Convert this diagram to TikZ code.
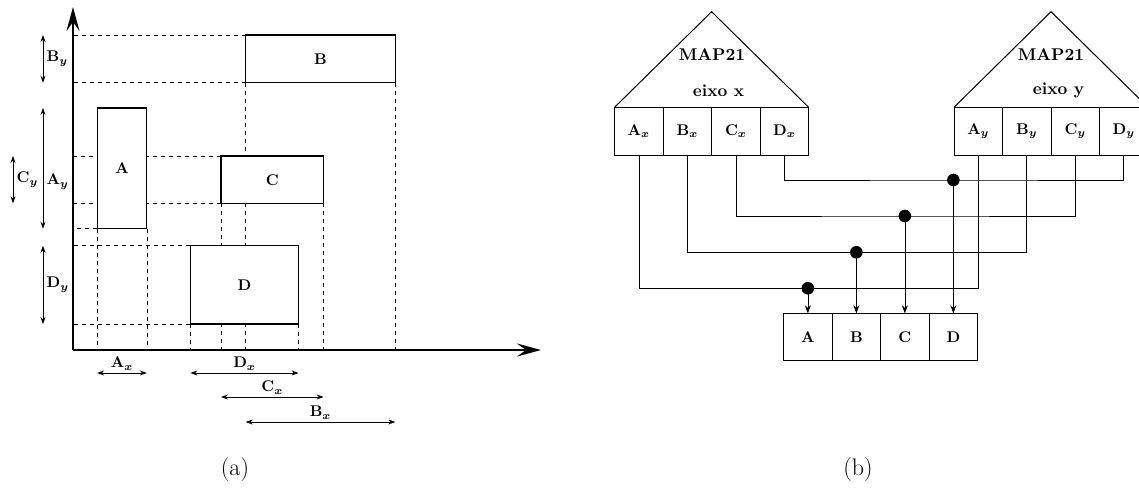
\documentclass[tikz,border=0pt]{standalone}
\usepackage{amsmath,amssymb}
\usepackage{graphicx}
\usepackage{tikz}
\usetikzlibrary{positioning,arrows.meta,backgrounds}
\newcommand{\blab}[1]{\scalebox{1.55}{\bfseries\boldmath #1}}
\newcommand{\maplab}[1]{\scalebox{1.7}{\bfseries #1}}

\begin{document}
\begin{tikzpicture}[x=1pt,y=1pt,
  blk/.style={draw,fill=white,line width=1.1pt,inner sep=0pt,outer sep=0pt},
  cell/.style={draw,line width=0.9pt,minimum width=48.5pt,minimum height=48.4pt,inner sep=0pt,outer sep=0pt},
  guide/.style={line width=0.7pt,dash pattern=on 4pt off 4pt},
  axisline/.style={line width=2.4pt,-{Stealth[length=24pt,width=13pt,inset=9pt]}},
  dim/.style={line width=0.8pt,{Stealth[length=7pt,width=5pt]}-{Stealth[length=7pt,width=5pt]}},
  wire/.style={line width=0.7pt},
  tri/.style={line width=1pt,line join=miter},
  captxt/.style={font=\fontsize{24}{28}\selectfont}]
\useasboundingbox (0,0) rectangle (1139,492);
\clip (0,0) rectangle (1139,492);
% (a) axes and rectangles
\coordinate (O) at (73,142);
\draw[axisline] (O) -- (541,142);
\draw[axisline] (O) -- (73,485);
\node[blk,minimum width=49.7pt,minimum height=120.7pt] (A) at (122,323.6) {\raisebox{-8pt}{\blab{A}}};
\node[blk,minimum width=149.7pt,minimum height=47.7pt] (B) at (320.5,433.1) {\blab{B}};
\node[blk,minimum width=102.6pt,minimum height=47.3pt] (C) at (272.3,312.3) {\blab{C}};
\node[blk,minimum width=108.2pt,minimum height=78.3pt] (D) at (244.5,207.1) {\raisebox{-4pt}{\blab{D}}};
% projections
\begin{scope}[on background layer]
\foreach \r in {A,B,C,D} {
  \draw[guide] (\r.south west) -- (\r.south west -| O);
  \draw[guide] (\r.south west) -- (\r.south west |- O);
  \draw[guide] (\r.south east) -- (\r.south east |- O);
}
\foreach \r in {B,C,D} \draw[guide] (\r.north west) -- (\r.north west -| O);
\end{scope}
% extents
\coordinate (dl) at (43,0);
\coordinate (dc) at (13,0);
\draw[dim] (B.north -| dl) -- (B.south -| dl) node[midway,right=0pt] {\blab{$\mathbf{B}_y$}};
\draw[dim] (A.north -| dl) -- (A.south -| dl) node[pos=0.61,right=0pt] {\blab{$\mathbf{A}_y$}};
\draw[dim] (C.north -| dc) -- (C.south -| dc) node[midway,right=0pt] {\blab{$\mathbf{C}_y$}};
\draw[dim] (D.north -| dl) -- (D.south -| dl) node[midway,right=0pt] {\blab{$\mathbf{D}_y$}};
\draw[dim] (A.west |- 0,119) -- (A.east |- 0,119) node[midway,above=-1pt] {\blab{$\mathbf{A}_x$}};
\draw[dim] (D.west |- 0,119) -- (D.east |- 0,119) node[midway,above=-1pt] {\blab{$\mathbf{D}_x$}};
\draw[dim] (C.west |- 0,95) -- (C.east |- 0,95) node[midway,above=-1pt] {\blab{$\mathbf{C}_x$}};
\draw[dim] (B.west |- 0,70) -- (B.east |- 0,70) node[midway,above=-1pt] {\blab{$\mathbf{B}_x$}};
\node[captxt] (capa) at (235,22) {(a)};
% (b) MAP21 on each axis
\node[cell] (xa) at (638.85,360.5) {\blab{$\mathbf{A}_x$}};
\node[cell,right=0pt of xa] (xb) {\blab{$\mathbf{B}_x$}};
\node[cell,right=0pt of xb] (xc) {\blab{$\mathbf{C}_x$}};
\node[cell,right=0pt of xc] (xd) {\blab{$\mathbf{D}_x$}};
\coordinate (tx) at (711.6,480.3);
\draw[tri] (xa.north west) -- (tx) -- (xd.north east);
\node (mapx) at (712,437.7) {\maplab{MAP21}};
\node (eixox) at (718.6,401.3) {\maplab{eixo x}};
\node[cell] (ya) at (978.25,360.5) {\blab{$\mathbf{A}_y$}};
\node[cell,right=0pt of ya] (yb) {\blab{$\mathbf{B}_y$}};
\node[cell,right=0pt of yb] (yc) {\blab{$\mathbf{C}_y$}};
\node[cell,right=0pt of yc] (yd) {\blab{$\mathbf{D}_y$}};
\coordinate (ty) at (1051,480.3);
\draw[tri] (ya.north west) -- (ty) -- (yd.north east);
\node (mapy) at (1051,437.7) {\maplab{MAP21}};
\node (eixoy) at (1058.6,401.3) {\maplab{eixo y}};
% result
\node[cell,minimum height=47.4pt] (ra) at (807.85,155) {\blab{A}};
\node[cell,minimum height=47.4pt,right=0pt of ra] (rb) {\blab{B}};
\node[cell,minimum height=47.4pt,right=0pt of rb] (rc) {\blab{C}};
\node[cell,minimum height=47.4pt,right=0pt of rc] (rd) {\blab{D}};
\foreach \n/\lev in {a/203.7,b/239.7,c/276,d/312} {
  \coordinate (j\n) at (r\n.north |- 0,\lev);
  \draw[wire] (x\n.south) |- (j\n) -| (y\n.south);
  \fill (j\n) circle (6.3);
  \draw[wire,-{Stealth[length=8pt,width=6pt]}] (j\n) -- (r\n.north);
}
\node[captxt] (capb) at (858,22) {(b)};
\end{tikzpicture}
\end{document}
